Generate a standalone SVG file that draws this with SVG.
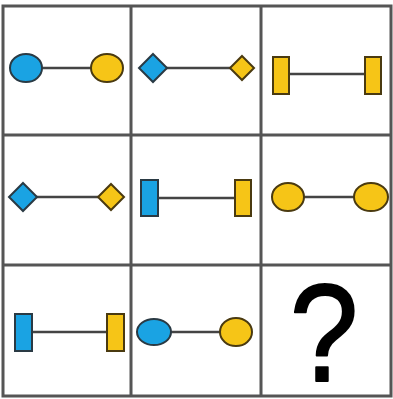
<svg xmlns="http://www.w3.org/2000/svg" width="393" height="399" viewBox="0 0 393 399">
<style>
.grid{fill:none;stroke:#555;stroke-width:3}
.c{stroke:#444;stroke-width:2.5}
.b{fill:#1aa3e3;stroke:#2a3a44;stroke-width:2}
.y{fill:#f6c517;stroke:#4a3a10;stroke-width:2}
.q{font-family:"Liberation Sans",Arial,sans-serif;font-size:140px;fill:#000;stroke:#000;stroke-width:2;stroke-linejoin:round}
</style>
<rect width="393" height="399" fill="#fff"/>
<g id="grid" class="grid">
<rect x="3" y="6" width="388" height="390"/>
<line x1="131" y1="6" x2="131" y2="396"/>
<line x1="261" y1="6" x2="261" y2="396"/>
<line x1="3" y1="135" x2="391" y2="135"/>
<line x1="3" y1="265" x2="391" y2="265"/>
</g>
<g id="connectors" class="c">
<line x1="42" y1="68" x2="92" y2="68"/>
<line x1="166" y1="68" x2="231" y2="68"/>
<line x1="289" y1="74" x2="365" y2="74"/>
<line x1="36" y1="197" x2="98" y2="197"/>
<line x1="158" y1="198" x2="235" y2="198"/>
<line x1="304" y1="197" x2="355" y2="197"/>
<line x1="32" y1="332" x2="107" y2="332"/>
<line x1="171" y1="332" x2="220" y2="332"/>
</g>
<g id="n1a"><ellipse class="b" cx="26" cy="68" rx="16" ry="14"/></g>
<g id="n1b"><ellipse class="y" cx="107" cy="68" rx="16" ry="14"/></g>
<g id="n2a"><polygon class="b" points="153,54 167,68 153,82 139,68"/></g>
<g id="n2b"><polygon class="y" points="242,56 254,68 242,80 230,68"/></g>
<g id="n3a"><rect class="y" x="273" y="57" width="16" height="37"/></g>
<g id="n3b"><rect class="y" x="365" y="57" width="16" height="37"/></g>
<g id="n4a"><polygon class="b" points="23,183 37,197 23,211 9,197"/></g>
<g id="n4b"><polygon class="y" points="111,184 124,197 111,210 98,197"/></g>
<g id="n5a"><rect class="b" x="141" y="180" width="17" height="36"/></g>
<g id="n5b"><rect class="y" x="235" y="180" width="16" height="36"/></g>
<g id="n6a"><ellipse class="y" cx="288" cy="197" rx="16" ry="14"/></g>
<g id="n6b"><ellipse class="y" cx="371" cy="197" rx="17" ry="14"/></g>
<g id="n7a"><rect class="b" x="15" y="314" width="17" height="37"/></g>
<g id="n7b"><rect class="y" x="107" y="314" width="17" height="37"/></g>
<g id="n8a"><ellipse class="b" cx="154" cy="332" rx="17" ry="13"/></g>
<g id="n8b"><ellipse class="y" cx="236" cy="332" rx="16" ry="14"/></g>
<g id="question"><text class="q" transform="translate(324,381) scale(0.88,1)" text-anchor="middle">?</text></g>
</svg>
